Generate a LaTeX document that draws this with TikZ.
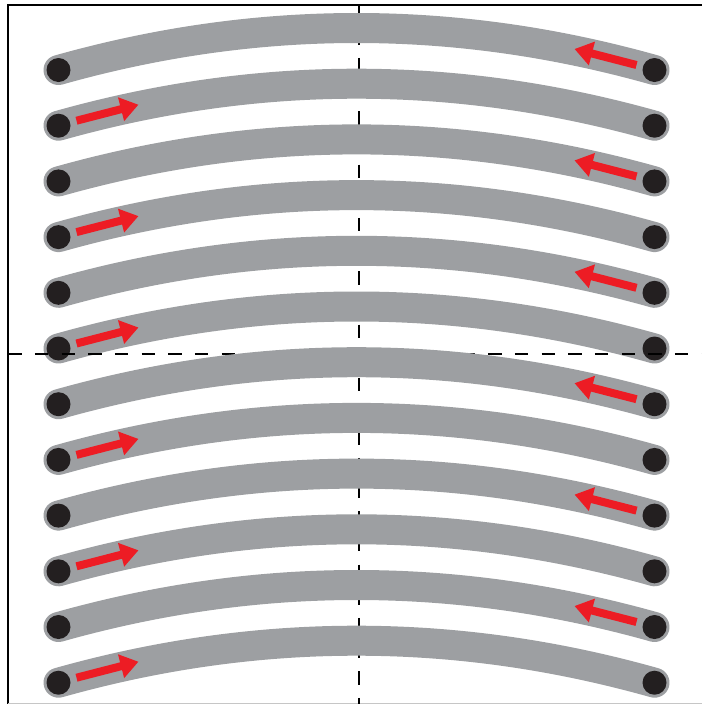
\documentclass[tikz,border=0pt]{standalone}
\usetikzlibrary{arrows.meta}
\definecolor{bandgray}{RGB}{157,159,162}
\definecolor{dotblack}{RGB}{35,31,32}
\definecolor{flowred}{RGB}{237,28,36}
\tikzset{every picture/.style={line width=0.75pt}}

\begin{document}
\begin{tikzpicture}[
            x=0.75pt,
            y=0.75pt,
            yscale=-1,
            xscale=1,
            band/.style={draw=bandgray,line width=22.5pt,line cap=round},
            enddot/.style={circle,fill=dotblack,minimum size=18pt,inner sep=0pt},
            flow/.style={draw=flowred,line width=6pt,-{Triangle[length=13.5pt,width=17.5pt]}},
            axis/.style={draw=black,line width=1.5pt,dash pattern=on 10pt off 10pt}
        ]
            \useasboundingbox (0,0) rectangle (702,704);
            % frame
            \draw [line width=1.5pt] (8.3,704) -- (8.3,4.5) -- (702,4.5) ;
            \draw [color=gray!45,line width=1pt] (8.3,703.4) -- (702,703.4) ;
            \draw [axis] (358.5,4.5) -- (358.5,704) ;
            % bands
            \foreach \i in {1,...,12}{
                \pgfmathsetmacro{\y}{70+(\i-1)*55.7}
                \ifnum\i=7
                    \draw [axis] (8.3,354) -- (702,354) ;
                \fi
                \coordinate (l\i) at (58.5,\y) ;
                \coordinate (r\i) at (654.5,\y) ;
                \draw [band] (l\i) .. controls +(198.7,-56) and +(-198.7,-56) .. (r\i) ;
                \node [enddot] (ld\i) at (l\i) {} ;
                \node [enddot] (rd\i) at (r\i) {} ;
                \ifodd\i
                    \path (r\i) ++(-18,-5) coordinate (ta\i) ++(-62,-16) coordinate (tb\i) ;
                \else
                    \path (l\i) ++(18,-5) coordinate (ta\i) ++(62,-16) coordinate (tb\i) ;
                \fi
                \draw [flow] (ta\i) -- (tb\i) ;
            }
        \end{tikzpicture}
\end{document}
